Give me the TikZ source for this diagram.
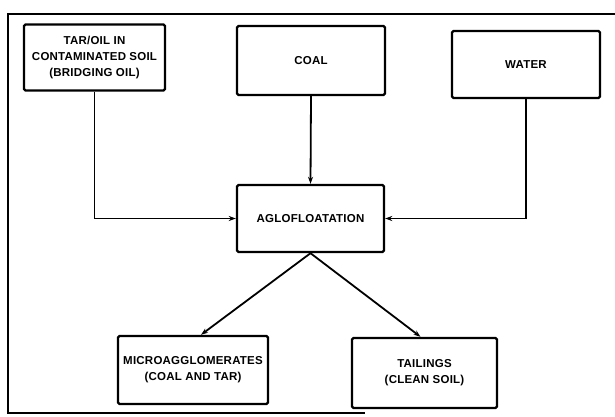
\documentclass[tikz,border=0pt]{standalone}
\usepackage{fontspec}
\setmainfont{Liberation Sans}
\usetikzlibrary{arrows.meta}
\begin{document}
\begin{tikzpicture}[x=1pt,y=-1pt,
  box/.style={draw=black, line width=2.4pt, rounded corners=1.5pt, align=center, inner sep=0pt,
    font=\fontsize{11.5}{16}\selectfont\bfseries\addfontfeatures{LetterSpace=2}},
  flow/.style={draw=black, line width=1.8pt, -{Stealth[length=7pt,width=5pt]}},
  frame/.style={draw=black, line width=2.2pt}]
  % page area
  \fill[white] (0,0) rectangle (615,417);
  \useasboundingbox (0,0) rectangle (615,417);

  % outer frame (open on the right)
  \coordinate (ftr) at (615,14);
  \coordinate (ftl) at (8,14);
  \coordinate (fbl) at (8,413);
  \coordinate (fbr) at (365,413);
  \draw[frame] (ftr) -- (ftl) -- (fbl) -- (fbr);

  % input boxes
  \node[box, minimum width=141, minimum height=66] (tar) at (94.5,57.5)
    {TAR/OIL IN\\CONTAMINATED SOIL\\(BRIDGING OIL)};
  \node[box, minimum width=148, minimum height=69] (coal) at (311,60.5) {COAL};
  \node[box, minimum width=148, minimum height=67] (water) at (526,64.5) {WATER};

  % process box
  \node[box, minimum width=147, minimum height=67] (agl) at (310.5,218.5) {AGLOFLOATATION};

  % product boxes
  \node[box, minimum width=150, minimum height=68] (micro) at (193,370)
    {MICROAGGLOMERATES\\(COAL AND TAR)};
  \node[box, minimum width=145, minimum height=70] (tail) at (424.5,373)
    {TAILINGS\\(CLEAN SOIL)};

  % flows
  \draw[flow] (tar.south) |- (agl.west);
  \draw[flow] (coal.south) -- (agl.north);
  \draw[flow] (water.south) |- (agl.east);
  \draw[flow] (agl.south) -- ([xshift=8pt]micro.north);
  \draw[flow] (agl.south) -- ([xshift=-4pt]tail.north);
\end{tikzpicture}
\end{document}
